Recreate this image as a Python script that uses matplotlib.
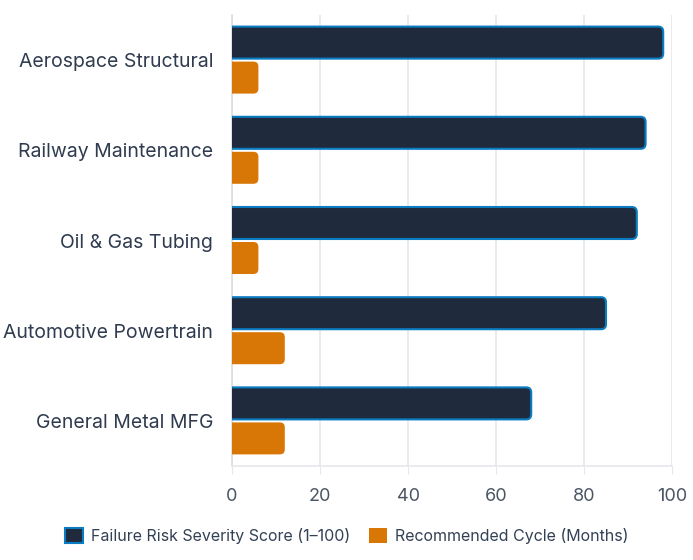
import matplotlib
matplotlib.use("Agg")
import matplotlib.pyplot as plt
from matplotlib.patches import FancyBboxPatch, Patch
import numpy as np

categories = ["Aerospace Structural", "Railway Maintenance", "Oil & Gas Tubing",
              "Automotive Powertrain", "General Metal MFG"]
severity = [98, 94, 92, 85, 68]
cycle = [6, 6, 6, 12, 12]
series_names = ["Failure Risk Severity Score (1–100)", "Recommended Cycle (Months)"]
xticks = [0, 20, 40, 60, 80, 100]

plt.rcParams['font.family'] = ['Inter', 'DejaVu Sans']

W, H = 693, 560
fig = plt.figure(figsize=(W / 100, H / 100), dpi=100)
ax_l, ax_r, ax_t, ax_b = 232, 672, 15, 466
ax = fig.add_axes([ax_l / W, 1 - ax_b / H, (ax_r - ax_l) / W, (ax_b - ax_t) / H])

n = len(categories)
ax.set_xlim(0, 100)
ax.set_ylim(n - 0.5, -0.5)

xpp = 100 / (ax_r - ax_l)        # x units per pixel
ypp = n / (ax_b - ax_t)          # y units per pixel
aspect = ypp / xpp
r = 5 * xpp

bh = 32 * ypp
gap = 3 * ypp
y = np.arange(n)

dark = "#1f2a3c"
edge = "#0a7cc1"
orange = "#d97706"

def rbar(x0, yc, w, h, fc, ec, lw):
    p = FancyBboxPatch((x0 - 3 * r, yc - h / 2), w + 3 * r, h,
                       boxstyle=f"round,pad=0,rounding_size={r}",
                       mutation_aspect=aspect, fc=fc, ec=ec, lw=lw, zorder=3,
                       clip_on=True)
    ax.add_patch(p)

for i in range(n):
    rbar(0, y[i] - gap / 2 - bh / 2, severity[i], bh, dark, edge, 1.5)
    rbar(0, y[i] + gap / 2 + bh / 2, cycle[i], bh, orange, "none", 0)

ax.set_xticks(xticks)
ax.set_xticklabels([str(t) for t in xticks])
ax.set_yticks(y)
ax.set_yticklabels(categories)
ax.grid(axis='x', color="#e5e7eb", lw=1.2, zorder=0)
ax.set_axisbelow(True)
for s in ["top", "right"]:
    ax.spines[s].set_visible(False)
ax.spines["left"].set_color("#d9dde3")
ax.spines["bottom"].set_color("#e5e7eb")
ax.spines["left"].set_linewidth(1.2)
ax.spines["bottom"].set_linewidth(1.2)
ax.tick_params(axis='x', length=6, color="#e5e7eb", labelsize=13, labelcolor="#4b5563", pad=10)
ax.tick_params(axis='y', length=0, labelsize=14, labelcolor="#2f3b4f", pad=13.5)

handles = [Patch(fc=dark, ec=edge, lw=1.5), Patch(fc=orange, ec="none")]
fig.legend(handles, series_names, loc="center", bbox_to_anchor=(0.5, 1 - 536 / H),
           ncol=2, frameon=False, fontsize=11.5, labelcolor="#334155",
           handlelength=1.1, handleheight=1.1, handletextpad=0.5, columnspacing=1.2)

fig.savefig("out.png", dpi=100)
